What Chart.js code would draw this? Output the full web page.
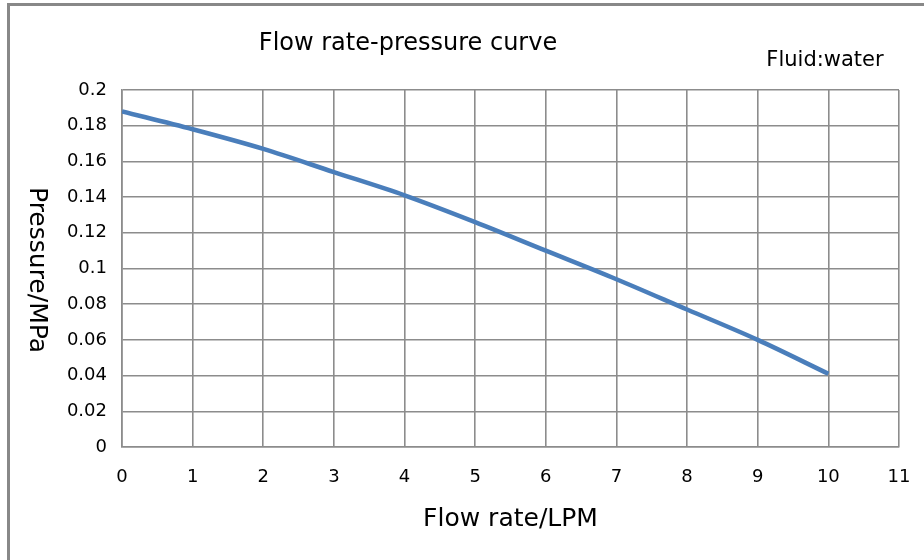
<!DOCTYPE html>
<html>
<head>
<meta charset="utf-8">
<script src="https://cdn.jsdelivr.net/npm/chart.js@4"></script>
<style>
  html, body { margin: 0; padding: 0; background: #fff; }
  #wrap { width: 924px; height: 560px; }
</style>
</head>
<body>
<div id="wrap"><canvas id="chart" width="924" height="560"></canvas></div>
<script>
// flow rate (LPM) vs pressure (MPa)
const flowRates = [0, 1, 2, 3, 4, 5, 6, 7, 8, 9, 10];
const pressures = [0.188, 0.178, 0.167, 0.154, 0.141, 0.126, 0.110, 0.094, 0.077, 0.060, 0.041];

const xTicks = [0, 1, 2, 3, 4, 5, 6, 7, 8, 9, 10, 11];
const yTicks = [0, 0.02, 0.04, 0.06, 0.08, 0.1, 0.12, 0.14, 0.16, 0.18, 0.2];

const titleText = 'Flow rate-pressure curve';
const noteText = 'Fluid:water';
const xTitle = 'Flow rate/LPM';
const yTitle = 'Pressure/MPa';

const fontFamily = '"DejaVu Sans", sans-serif';
const gridColor = '#8c8c8c';

// frame, title, note and rotated y title
const decorations = {
    id: 'decorations',
    beforeDraw(chart) {
        const ctx = chart.ctx;
        ctx.save();
        ctx.fillStyle = '#fff';
        ctx.fillRect(0, 0, chart.width, chart.height);
        ctx.fillStyle = '#888';
        ctx.fillRect(7, 3, chart.width - 7, 3);
        ctx.fillRect(7, 3, 3, chart.height - 3);
        ctx.restore();
    },
    afterDraw(chart) {
        const ctx = chart.ctx;
        const area = chart.chartArea;
        ctx.save();
        ctx.fillStyle = '#000';
        ctx.textBaseline = 'middle';
        ctx.textAlign = 'center';
        ctx.font = '24px ' + fontFamily;
        ctx.fillText(titleText, 408, 44);
        ctx.font = '21px ' + fontFamily;
        ctx.fillText(noteText, 825, 61);
        ctx.font = '25px ' + fontFamily;
        ctx.fillText(xTitle, (area.left + area.right) / 2, 519);
        ctx.translate(36, 270);
        ctx.rotate(Math.PI / 2);
        ctx.fillText(yTitle, 0, 0);
        ctx.restore();
    }
};

new Chart(document.getElementById('chart'), {
    type: 'line',
    data: {
        datasets: [{
            label: 'Pressure',
            data: flowRates.map((f, i) => ({ x: f, y: pressures[i] })),
            borderColor: '#4a7ebb',
            borderWidth: 4.5,
            pointRadius: 0,
            cubicInterpolationMode: 'monotone',
            fill: false
        }]
    },
    options: {
        responsive: false,
        animation: false,
        layout: { padding: { top: 90, right: 25, left: 0, bottom: 0 } },
        plugins: {
            legend: { display: false },
            tooltip: { enabled: false }
        },
        scales: {
            x: {
                type: 'linear',
                min: 0,
                max: 11,
                afterBuildTicks: s => { s.ticks = xTicks.map(v => ({ value: v })); },
                afterFit: s => { s.height = 113; s.paddingLeft = 0; s.paddingRight = 0; },
                grid: { color: gridColor, lineWidth: 1.6, drawTicks: false },
                border: { color: gridColor, width: 1.6 },
                ticks: {
                    padding: 20,
                    color: '#000',
                    font: { family: fontFamily, size: 18 }
                }
            },
            y: {
                min: 0,
                max: 0.2,
                afterBuildTicks: s => { s.ticks = yTicks.map(v => ({ value: v })); },
                afterFit: s => { s.width = 122; s.paddingTop = 0; s.paddingBottom = 0; },
                grid: { color: gridColor, lineWidth: 1.6, drawTicks: false },
                border: { color: gridColor, width: 1.6 },
                ticks: {
                    padding: 15,
                    color: '#000',
                    font: { family: fontFamily, size: 18 },
                    callback: v => String(parseFloat(v.toFixed(2)))
                }
            }
        }
    },
    plugins: [decorations]
});
</script>
</body>
</html>
